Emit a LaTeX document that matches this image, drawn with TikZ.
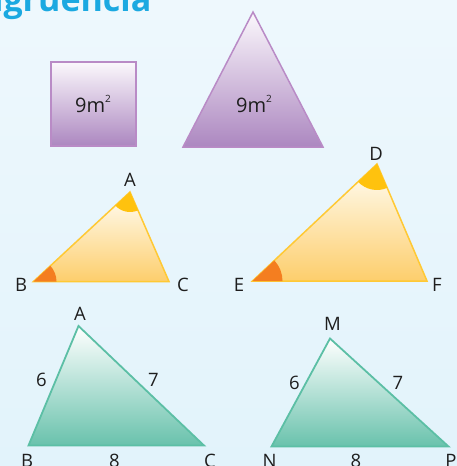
\documentclass[tikz,border=0pt]{standalone}
\usepackage{fontspec}
\setmainfont{Open Sans}
\usetikzlibrary{angles}
\definecolor{bgtop}{HTML}{EEF8FD}
\definecolor{bgbot}{HTML}{E2F3FB}
\definecolor{titlecol}{HTML}{1BA9E1}
\definecolor{purpstroke}{HTML}{B98BC6}
\definecolor{purptop}{HTML}{FBF8FC}
\definecolor{purpbot}{HTML}{AC87C0}
\definecolor{yelstroke}{HTML}{FFC934}
\definecolor{yeltop}{HTML}{FFFDF5}
\definecolor{yelbot}{HTML}{FDCE6C}
\definecolor{angyel}{HTML}{FFC20E}
\definecolor{angorg}{HTML}{F47E20}
\definecolor{grnstroke}{HTML}{5CBFA5}
\definecolor{grnbot}{HTML}{69C2AC}
\definecolor{txt}{HTML}{1E1E1E}
\begin{document}
\begin{tikzpicture}[x=1pt,y=-1pt,
  purpshape/.style={draw=purpstroke,line width=1.5pt,top color=purptop,bottom color=purpbot},
  yelshape/.style={draw=yelstroke,line width=1.5pt,top color=yeltop,bottom color=yelbot},
  grnshape/.style={draw=grnstroke,line width=1.8pt,top color=white,bottom color=grnbot},
  lbl/.style={text=txt,font=\fontsize{18.5}{18.5}\selectfont,inner sep=0pt},
  area/.style={text=txt,font=\fontsize{20}{20}\selectfont,inner sep=0pt}]
\useasboundingbox (0,0) rectangle (457,466);
\shade[top color=bgtop,bottom color=bgbot] (0,0) rectangle (457,466);
% title (cut off by the page)
\node[anchor=base west,font=\fontsize{34}{34}\selectfont\bfseries,text=titlecol,inner sep=0pt] (title) at (-19,11.5) {ngruencia};
% purple square and triangle
\coordinate (s1) at (51,62);
\coordinate (s2) at (136,146);
\path[purpshape] (s1) rectangle (s2);
\node[area] (sqlabel) at (93,104) {9m\raisebox{0.5em}{\fontsize{10}{10}\selectfont 2}};
\coordinate (pt) at (253,12);
\coordinate (pl) at (183,147);
\coordinate (pr) at (323,147);
\path[purpshape] (pt) -- (pl) -- (pr) -- cycle;
\node[area] (trlabel) at (254,104) {9m\raisebox{0.5em}{\fontsize{10}{10}\selectfont 2}};
% yellow triangles
\coordinate (A1) at (130,192);
\coordinate (B1) at (33.5,281.5);
\coordinate (C1) at (169,281.5);
\path[yelshape] (A1) -- (B1) -- (C1) -- cycle;
\pic[fill=angyel,angle radius=20pt] {angle=B1--A1--C1};
\pic[fill=angorg,angle radius=23pt] {angle=C1--B1--A1};
\node[lbl] (lA1) at (130,180) {A};
\node[lbl] (lB1) at (21,285) {B};
\node[lbl] (lC1) at (183,285) {C};
\coordinate (D) at (377,164);
\coordinate (E) at (252.5,281);
\coordinate (F) at (427,281);
\path[yelshape] (D) -- (E) -- (F) -- cycle;
\pic[fill=angyel,angle radius=26pt] {angle=E--D--F};
\pic[fill=angorg,angle radius=30pt] {angle=F--E--D};
\node[lbl] (lD) at (376,154) {D};
\node[lbl] (lE) at (239,285) {E};
\node[lbl] (lF) at (437,285) {F};
% green triangles
\coordinate (A2) at (78.5,326);
\coordinate (B2) at (28.5,445.5);
\coordinate (C2) at (204,445.5);
\path[grnshape] (A2) -- (B2) -- (C2) -- cycle;
\node[lbl] (lA2) at (80,314) {A};
\node[lbl] (lB2) at (27,461) {B};
\node[lbl] (lC2) at (210,461) {C};
\node[lbl] (s6a) at (41.5,380) {6};
\node[lbl] (s7a) at (153.5,380) {7};
\node[lbl] (s8a) at (114.5,461) {8};
\coordinate (M) at (330,338.5);
\coordinate (N) at (271.5,446.5);
\coordinate (P) at (448.5,446.5);
\path[grnshape] (M) -- (N) -- (P) -- cycle;
\node[lbl] (lM) at (332.5,324) {M};
\node[lbl] (lN) at (269.5,461) {N};
\node[lbl] (lP) at (451,461) {P};
\node[lbl] (s6b) at (294.5,382.5) {6};
\node[lbl] (s7b) at (398,382.5) {7};
\node[lbl] (s8b) at (356,461) {8};
\end{tikzpicture}
\end{document}
